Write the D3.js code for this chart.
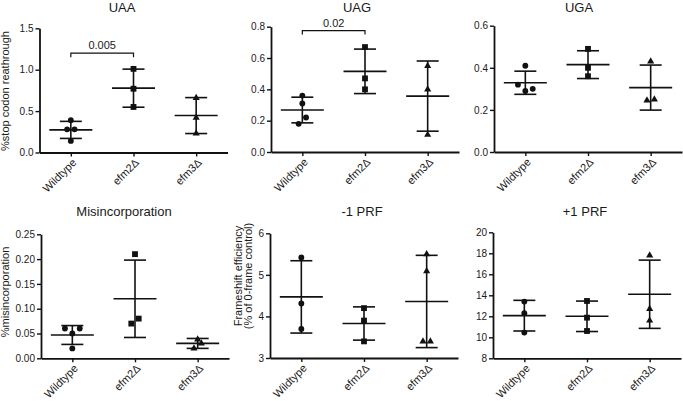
<!DOCTYPE html>
<html><head><meta charset="utf-8">
<script src="https://cdn.jsdelivr.net/npm/d3@7/dist/d3.min.js"></script>
<style>
body{margin:0;background:#fff}
svg{display:block}
text{font-family:"Liberation Sans",Arial,Helvetica,sans-serif;fill:#1a1a1a}
</style>
</head><body><svg id="c" width="683" height="401"></svg>
<script>
// ---------- DATA ----------
const categories = ["Wildtype", "efm2Δ", "efm3Δ"];
const panelTitles = ["UAA", "UAG", "UGA", "Misincorporation", "-1 PRF", "+1 PRF"];
const yLabels = [["%stop codon reathrough"], [], [], ["%misincorporation"], ["Frameshift efficiency", "(% of 0-frame control)"], []];

const uaaValues = [[0.39, 0.28, 0.28, 0.14], [1.01, 0.77, 0.55], [0.66, 0.42, 0.23]];
const uaaMeans = [0.273, 0.777, 0.446];
const uaaSD = [0.103, 0.230, 0.217];
const uaaJitter = [[0, -1, 1, 0], [0, 0, 0], [0, 0, 0]];

const uagValues = [[0.36, 0.31, 0.22, 0.18], [0.67, 0.47, 0.40], [0.55, 0.40, 0.11]];
const uagMeans = [0.268, 0.515, 0.357];
const uagSD = [0.082, 0.142, 0.224];
const uagJitter = [[0, 0, 1, -1], [0, 0, 0], [0, 0, 0]];

const ugaValues = [[0.41, 0.32, 0.29, 0.30], [0.49, 0.40, 0.36], [0.43, 0.245, 0.25]];
const ugaMeans = [0.329, 0.415, 0.306];
const ugaSD = [0.055, 0.066, 0.107];
const ugaJitter = [[0, -2, 0, 2], [0, 0, 0], [0, -1, 1]];

const misValues = [[0.06, 0.05, 0.06, 0.02], [0.21, 0.07, 0.08], [0.038, 0.03, 0.02]];
const misMeans = [0.047, 0.120, 0.030];
const misSD = [0.019, 0.078, 0.010];
const misJitter = [[-2, 0, 2, 0], [0, -1, 1], [0, 1, -1]];

const m1prfValues = [[5.42, 4.31, 3.70], [4.2, 3.9, 3.4], [5.5, 5.09, 3.40, 3.40]];
const m1prfMeans = [4.47, 3.83, 4.36];
const m1prfSD = [0.87, 0.40, 1.11];
const m1prfJitter = [[0, 0, 0], [0, 0, 0], [0, 0, -1, 1]];

const p1prfValues = [[13.4, 12.3, 10.45], [13.46, 11.87, 10.6], [17.8, 12.7, 11.6]];
const p1prfMeans = [12.06, 12.0, 14.1];
const p1prfSD = [1.46, 1.45, 3.25];
const p1prfJitter = [[0, 0, 0], [0, 0, 0], [0, 0, 0]];

const yDomains = [[0, 1.5], [0, 0.8], [0, 0.6], [0, 0.25], [3, 6], [8, 20]];
const yTicks = [[0, 0.5, 1.0, 1.5], [0, 0.2, 0.4, 0.6, 0.8], [0, 0.2, 0.4, 0.6],
                [0, 0.05, 0.10, 0.15, 0.20, 0.25], [3, 4, 5, 6], [8, 10, 12, 14, 16, 18, 20]];
const tickFormats = [".1f", ".1f", ".1f", ".2f", "d", "d"];

const bracketPanels = [0, 1];
const bracketFrom = ["Wildtype", "Wildtype"];
const bracketTo = ["efm2Δ", "efm2Δ"];
const bracketY = [1.2, 0.775];
const bracketDrop = [1.15, 0.75];
const bracketLabels = ["0.005", "0.02"];

// ---------- LAYOUT ----------
const panels = [
  {values: uaaValues, means: uaaMeans, sd: uaaSD, jitter: uaaJitter},
  {values: uagValues, means: uagMeans, sd: uagSD, jitter: uagJitter},
  {values: ugaValues, means: ugaMeans, sd: ugaSD, jitter: ugaJitter},
  {values: misValues, means: misMeans, sd: misSD, jitter: misJitter},
  {values: m1prfValues, means: m1prfMeans, sd: m1prfSD, jitter: m1prfJitter},
  {values: p1prfValues, means: p1prfMeans, sd: p1prfSD, jitter: p1prfJitter}
];
const layout = [
  {x0: 39.5, yTop: 28.3, yBot: 152.5, titleX: 122, titleY: 12, labX: [9], labY: 91},
  {x0: 271, yTop: 26.7, yBot: 152, titleX: 357, titleY: 12},
  {x0: 494, yTop: 25.7, yBot: 152, titleX: 579, titleY: 12},
  {x0: 41, yTop: 234.3, yBot: 358.3, titleX: 124, titleY: 216, labX: [9], labY: 292},
  {x0: 270, yTop: 233.3, yBot: 358, titleX: 362, titleY: 216, labX: [241.5, 251.5], labY: 276},
  {x0: 493, yTop: 232.3, yBot: 358.3, titleX: 585, titleY: 216}
];
const axisLen = 188;
const jitterStep = 3.7;
const meanHalf = 21.5, capHalf = 11;
const ink = "#111";
const symbols = [d3.symbolCircle, d3.symbolSquare, d3.symbolTriangle];
const symbolSizes = [27, 34, 22];

const svg = d3.select("#c");

panels.forEach((p, i) => {
  const L = layout[i];
  const g = svg.append("g");
  const x = d3.scalePoint().domain(categories).range([L.x0, L.x0 + axisLen]).padding(0.5);
  const y = d3.scaleLinear().domain(yDomains[i]).range([L.yBot, L.yTop]);

  const ya = g.append("g").attr("transform", `translate(${L.x0},0)`)
    .call(d3.axisLeft(y).tickValues(yTicks[i]).tickFormat(d3.format(tickFormats[i])).tickSize(4).tickSizeOuter(0).tickPadding(2));
  const xa = g.append("g").attr("transform", `translate(0,${L.yBot})`)
    .call(d3.axisBottom(x).tickSize(4).tickSizeOuter(0));

  [ya, xa].forEach(a => {
    a.select(".domain").attr("stroke", ink).attr("stroke-width", 1.8);
    a.selectAll(".tick line").attr("stroke", ink).attr("stroke-width", 1.4);
  });
  ya.selectAll(".tick text").attr("font-size", 10).attr("fill", "#222").style("font-family", '"Liberation Sans",Arial,sans-serif');
  xa.selectAll(".tick text")
    .attr("font-size", 11).attr("fill", "#222").style("font-family", '"Liberation Sans",Arial,sans-serif')
    .attr("text-anchor", "end")
    .attr("y", 0).attr("dy", "0.35em")
    .attr("transform", "translate(3,8) rotate(-45)");

  g.append("text").attr("x", L.titleX).attr("y", L.titleY).attr("text-anchor", "middle")
    .attr("font-size", 13).text(panelTitles[i]);

  (yLabels[i] || []).forEach((t, k) => {
    g.append("text").attr("transform", `translate(${L.labX[k]},${L.labY}) rotate(-90)`)
      .attr("text-anchor", "middle").attr("font-size", 11).text(t);
  });

  categories.forEach((c, ci) => {
    const cx = x(c);
    const m = p.means[ci], s = p.sd[ci];
    const eb = g.append("g").attr("stroke", ink).attr("stroke-width", 1.6).attr("fill", "none");
    eb.append("line").attr("x1", cx).attr("x2", cx).attr("y1", y(m + s)).attr("y2", y(m - s));
    eb.append("line").attr("x1", cx - capHalf).attr("x2", cx + capHalf).attr("y1", y(m + s)).attr("y2", y(m + s));
    eb.append("line").attr("x1", cx - capHalf).attr("x2", cx + capHalf).attr("y1", y(m - s)).attr("y2", y(m - s));
    eb.append("line").attr("x1", cx - meanHalf).attr("x2", cx + meanHalf).attr("y1", y(m)).attr("y2", y(m));
  });

  categories.forEach((c, ci) => {
    const sym = d3.symbol().type(symbols[ci]).size(symbolSizes[ci]);
    g.append("g").selectAll("path").data(p.values[ci]).join("path")
      .attr("d", sym)
      .attr("fill", ink)
      .attr("transform", (v, k) => `translate(${x(c) + p.jitter[ci][k] * jitterStep},${y(v)})`);
  });

  bracketPanels.forEach((bp, bi) => {
    if (bp !== i) return;
    const xa1 = x(bracketFrom[bi]), xa2 = x(bracketTo[bi]);
    g.append("path")
      .attr("d", `M${xa1},${y(bracketDrop[bi])}V${y(bracketY[bi])}H${xa2}V${y(bracketDrop[bi])}`)
      .attr("fill", "none").attr("stroke", ink).attr("stroke-width", 1.2);
    g.append("text").attr("x", (xa1 + xa2) / 2).attr("y", y(bracketY[bi]) - 4)
      .attr("text-anchor", "middle").attr("font-size", 11).text(bracketLabels[bi]);
  });
});
</script>
</body></html>
